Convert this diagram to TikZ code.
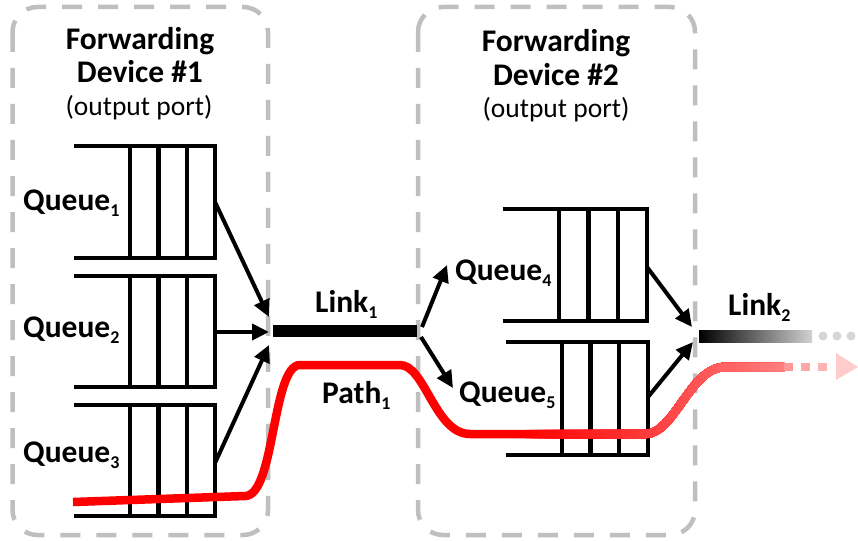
\documentclass[tikz,border=0pt]{standalone}
\usepackage{fontspec}
\setmainfont{Carlito}
\usetikzlibrary{arrows.meta}

\definecolor{boxgray}{HTML}{BFBFBF}
\newcommand\lowidx[1]{\raisebox{-6.5pt}{\fontsize{18}{18}\selectfont #1}}
% grey ramp for the second link (the path box spans the middle half of the shading)
\pgfdeclarehorizontalshading{linkramp}{100bp}{color(0bp)=(black); color(25bp)=(black); color(75bp)=(black!18); color(100bp)=(black!18)}

\tikzset{
  devicebox/.style={draw=boxgray, line width=4.5pt, dash pattern=on 20pt off 16pt, rounded corners=25pt},
  qline/.style={line width=4.2pt, line join=miter},
  flow/.style={line width=4pt, -{Triangle[length=17pt,width=16pt]}},
  lbl/.style={font=\bfseries\fontsize{31.5}{34}\selectfont, inner sep=0pt, anchor=base west},
  title/.style={font=\bfseries\fontsize{31.5}{34}\selectfont, inner sep=0pt, anchor=base},
  subtitle/.style={font=\fontsize{27.5}{30}\selectfont, inner sep=0pt, anchor=base},
  redpath/.style={line width=8.5pt},
}
% the solid part of the flow's path, drawn in a given colour
\newcommand\flowcurve[1]{%
  \draw[redpath, draw=#1]
    (73,502) -- (245,496)
    .. controls (275,496) and (272,365) .. (300,365)
    -- (400,365)
    .. controls (425,365) and (435,434) .. (470,434)
    -- (645,434)
    .. controls (675,434) and (690,367) .. (725,367)
    -- (784,367);}

\begin{document}
\begin{tikzpicture}[x=1pt, y=-1pt]
\useasboundingbox (0,0) rectangle (858,540);

% device frames
\draw[devicebox] (12.5,7) rectangle (268,535);
\draw[devicebox] (418,7) rectangle (695,535);

% titles
\node[title] (d1a) at (140,50) {Forwarding};
\node[title] (d1b) at (140,83) {Device \#1};
\node[subtitle] (d1c) at (139,116) {(output port)};
\node[title] (d2a) at (556,52) {Forwarding};
\node[title] (d2b) at (556,86) {Device \#2};
\node[subtitle] (d2c) at (556,118) {(output port)};

% queues of device 1
\foreach \t/\b in {146/258, 276/387, 405/516}{
  \draw[qline] (74,\t) -- (215,\t) -- (215,\b) -- (74,\b);
  \foreach \x in {130,158.5,187} \draw[qline] (\x,\t) -- (\x,\b);
}
% queues of device 2
\draw[qline] (503,209) -- (647,209) -- (647,321) -- (503,321);
\foreach \x in {559,588.5,618} \draw[qline] (\x,209) -- (\x,321);
\draw[qline] (506,342) -- (648,342) -- (648,455) -- (506,455);
\foreach \x in {562,590.5,619} \draw[qline] (\x,342) -- (\x,455);

% queue labels
\node[lbl] (q1) at (23,210) {Queue\lowidx{1}};
\node[lbl] (q2) at (23,337) {Queue\lowidx{2}};
\node[lbl] (q3) at (23,462) {Queue\lowidx{3}};
\node[lbl] (q4) at (455,280) {Queue\lowidx{4}};
\node[lbl] (q5) at (459,402) {Queue\lowidx{5}};

% connector end points
\coordinate (q1out) at (215,202);
\coordinate (q2out) at (215,332);
\coordinate (q3out) at (215,463);
\coordinate (in1) at (269,317);
\coordinate (in2) at (269,332);
\coordinate (in3) at (269,345);
\coordinate (l1a) at (273,331);
\coordinate (l1b) at (417,331);
\coordinate (sp1) at (422,327);
\coordinate (sp2) at (421,337);
\coordinate (q4in) at (447,265);
\coordinate (q5in) at (453,388);
\coordinate (q4out) at (647,267);
\coordinate (q5out) at (648,397);
\coordinate (in4) at (692,327);
\coordinate (in5) at (693,342);

% scheduler arrows
\draw[flow] (q1out) -- (in1);
\draw[flow] (q2out) -- (in2);
\draw[flow] (q3out) -- (in3);
\draw[flow] (sp1) -- (q4in);
\draw[flow] (sp2) -- (q5in);
\draw[flow] (q4out) -- (in4);
\draw[flow] (q5out) -- (in5);

% links
\draw[line width=11.5pt] (l1a) -- (l1b);
\node[lbl] (link1) at (315,312) {Link\lowidx{1}};
\shade[shading=linkramp] (699,330) rectangle (812,342);
\foreach \x in {823,837,851} \fill[black!16] (\x,336) circle (4.5);
\node[lbl] (link2) at (728,315) {Link\lowidx{2}};

% path of the flow: full red, then paler strips towards the right
\flowcurve{red}
\foreach \i in {1,...,44}{
  \pgfmathsetmacro\xs{520+6*\i}
  \pgfmathsetmacro\pc{100-50*6*\i/264}
  \begin{scope}
    \clip (\xs,300) rectangle (800,540);
    \flowcurve{red!\pc}
  \end{scope}
}
\draw[draw=red!40, line width=8.5pt] (784,367) -- (793,367);
\draw[draw=red!34, line width=8.5pt] (801,367) -- (810,367);
\draw[draw=red!30, line width=8.5pt] (818,367) -- (827,367);
\fill[red!20] (836,353) -- (858,367) -- (836,380) -- cycle;
\node[lbl] (path1) at (322,403) {Path\lowidx{1}};
\end{tikzpicture}
\end{document}
